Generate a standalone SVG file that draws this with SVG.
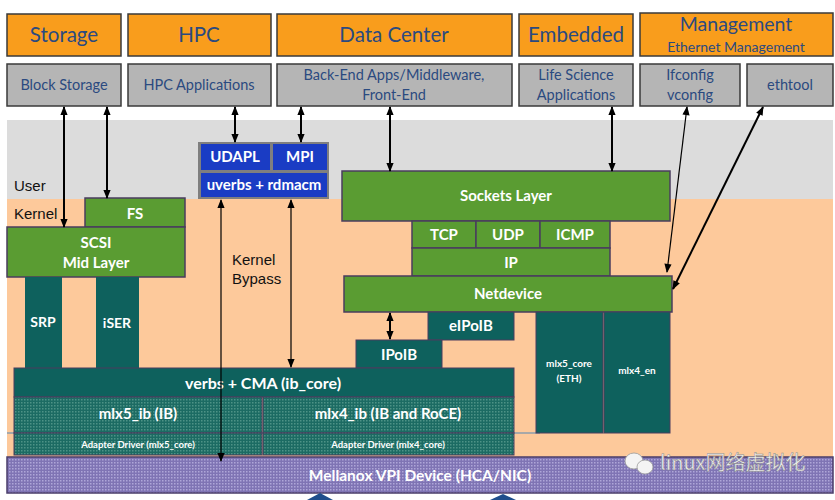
<svg xmlns="http://www.w3.org/2000/svg" width="835" height="500" viewBox="0 0 835 500">
<style>
.top{fill:#f99d1c;stroke:#3a3a3a;stroke-width:1.5}
.app{fill:#b5b5b5;stroke:#3a3a3a;stroke-width:1.5}
.tt{font-family:Lato,"Liberation Sans",sans-serif;fill:#2b4a80;text-anchor:middle}
.g{fill:#5a9c32;stroke:#4a3d5e;stroke-width:1.5}
.t{fill:#0e615d;stroke:#4a3d5e;stroke-width:1}
.w{font-family:Lato,"Liberation Sans",sans-serif;font-weight:bold;fill:#fff;text-anchor:middle}
.lbl{font-family:"Liberation Sans",Arial,sans-serif;fill:#111;font-size:15px}
.ar{stroke:#000;stroke-width:2;fill:none;marker-start:url(#ah);marker-end:url(#ah)}
.ar1{stroke:#000;stroke-width:1.2;fill:none;marker-start:url(#ah);marker-end:url(#ah)}
</style>
<defs>
<marker id="ah" viewBox="0 0 10 10" refX="9" refY="5" markerWidth="10" markerHeight="9" orient="auto-start-reverse" markerUnits="userSpaceOnUse">
<path d="M0,1 L10,5 L0,9 z" fill="#000"/>
</marker>
<pattern id="pt" width="3" height="3" patternUnits="userSpaceOnUse">
<rect width="3" height="3" fill="#1c6b63"/>
<rect x="0" y="0" width="1.5" height="1.5" fill="#4d9286"/>
</pattern>
<pattern id="pp" width="3" height="3" patternUnits="userSpaceOnUse">
<rect width="3" height="3" fill="#7f74b4"/>
<rect x="0" y="0" width="1.5" height="1.5" fill="#aea6d8"/>
</pattern>
</defs>

<!-- background bands -->
<rect x="7" y="120" width="826" height="80" fill="#dcdcdc"/>
<rect x="7" y="199" width="826" height="258" fill="#fdc99b"/>
<line x1="7" y1="433" x2="540" y2="433" stroke="#a8a8a8" stroke-width="2"/>
<text class="lbl" x="14" y="191">User</text>
<text class="lbl" x="14" y="219">Kernel</text>
<text class="lbl" x="232" y="265">Kernel</text>
<text class="lbl" x="232" y="284">Bypass</text>

<!-- top categories -->
<g id="storage"><rect class="top" x="7" y="14" width="114" height="42"/><text class="tt" x="64" y="42" font-size="20.5">Storage</text></g>
<g id="hpc"><rect class="top" x="128" y="14" width="143" height="42"/><text class="tt" x="199" y="42" font-size="20.5">HPC</text></g>
<g id="datacenter"><rect class="top" x="277" y="14" width="235" height="42"/><text class="tt" x="394" y="42" font-size="20.5">Data Center</text></g>
<g id="embedded"><rect class="top" x="519" y="14" width="114" height="42"/><text class="tt" x="576" y="42" font-size="20.5">Embedded</text></g>
<g id="management"><rect class="top" x="640" y="13" width="193" height="43"/><text class="tt" x="736" y="31" font-size="19.5">Management</text><text class="tt" x="736" y="52" font-size="14">Ethernet Management</text></g>

<!-- applications -->
<g id="blockstorage"><rect class="app" x="7" y="64" width="114" height="42"/><text class="tt" x="64" y="90" font-size="14.5">Block Storage</text></g>
<g id="hpcapps"><rect class="app" x="128" y="64" width="143" height="42"/><text class="tt" x="199" y="90" font-size="14.5">HPC Applications</text></g>
<g id="backend"><rect class="app" x="277" y="64" width="235" height="42"/><text class="tt" x="394" y="80" font-size="14.5">Back-End Apps/Middleware,</text><text class="tt" x="394" y="100" font-size="14.5">Front-End</text></g>
<g id="lifescience"><rect class="app" x="519" y="64" width="114" height="42"/><text class="tt" x="576" y="80" font-size="14.5">Life Science</text><text class="tt" x="576" y="100" font-size="14.5">Applications</text></g>
<g id="ifconfig"><rect class="app" x="640" y="64" width="100" height="42"/><text class="tt" x="690" y="80" font-size="14.5">Ifconfig</text><text class="tt" x="690" y="100" font-size="14.5">vconfig</text></g>
<g id="ethtool"><rect class="app" x="747" y="64" width="86" height="42"/><text class="tt" x="790" y="90" font-size="14.5">ethtool</text></g>

<!-- user space verbs -->
<g id="uverbs">
<rect x="198" y="142" width="131" height="57" fill="#7f7f7f"/>
<rect x="201" y="144" width="69" height="26" fill="#1a3cc4"/>
<rect x="273" y="144" width="54" height="26" fill="#1a3cc4"/>
<rect x="201" y="173" width="126" height="24" fill="#1a3cc4"/>
<text class="w" x="235" y="162" font-size="15">UDAPL</text>
<text class="w" x="300" y="162" font-size="15">MPI</text>
<text class="w" x="264" y="190" font-size="15">uverbs + rdmacm</text>
</g>

<!-- storage stack -->
<g id="fs"><rect class="g" x="85" y="198" width="100" height="29"/><text class="w" x="135" y="219" font-size="15">FS</text></g>
<g id="scsi"><rect class="g" x="7" y="227" width="178" height="50"/><text class="w" x="96" y="248" font-size="15">SCSI</text><text class="w" x="96" y="268" font-size="15">Mid Layer</text></g>
<g id="srp"><rect x="25" y="277" width="37" height="91" fill="#0e615d"/><text class="w" x="43" y="327" font-size="14">SRP</text></g>
<g id="iser"><rect x="96" y="277" width="43" height="91" fill="#0e615d"/><text class="w" x="117" y="328" font-size="14">iSER</text></g>

<!-- network stack -->
<g id="sockets"><rect class="g" x="342" y="171" width="328" height="50"/><text class="w" x="506" y="201" font-size="15">Sockets Layer</text></g>
<g id="tcp"><rect class="g" x="412" y="221" width="64" height="27"/><text class="w" x="444" y="240" font-size="15">TCP</text></g>
<g id="udp"><rect class="g" x="476" y="221" width="64" height="27"/><text class="w" x="508" y="240" font-size="15">UDP</text></g>
<g id="icmp"><rect class="g" x="540" y="221" width="70" height="27"/><text class="w" x="575" y="240" font-size="15">ICMP</text></g>
<g id="ip"><rect class="g" x="412" y="248" width="198" height="28"/><text class="w" x="511" y="268" font-size="15">IP</text></g>
<g id="netdevice"><rect class="g" x="344" y="276" width="328" height="36"/><text class="w" x="508" y="299" font-size="15">Netdevice</text></g>
<g id="eipoib"><rect class="t" x="428" y="312" width="86" height="28"/><text class="w" x="471" y="331" font-size="15">eIPoIB</text></g>
<g id="ipoib"><rect class="t" x="356" y="340" width="86" height="28"/><text class="w" x="399" y="360" font-size="15">IPoIB</text></g>
<g id="mlx5core"><rect class="t" x="536" y="312" width="67" height="121"/><text class="w" x="569" y="367" font-size="10">mlx5_core</text><text class="w" x="569" y="382" font-size="10">(ETH)</text></g>
<g id="mlx4en"><rect class="t" x="604" y="312" width="66" height="121"/><text class="w" x="637" y="374" font-size="10">mlx4_en</text></g>

<!-- core & drivers -->
<g id="ibcore"><rect class="t" x="14" y="368" width="500" height="29"/><text class="w" x="263" y="389" font-size="16">verbs  + CMA (ib_core)</text></g>
<g id="mlx5ib"><rect x="14" y="397" width="248" height="36" fill="url(#pt)" stroke="#4a3d5e" stroke-width="1"/><text class="w" x="138" y="419" font-size="15">mlx5_ib (IB)</text></g>
<g id="mlx4ib"><rect x="263" y="397" width="251" height="36" fill="url(#pt)" stroke="#4a3d5e" stroke-width="1"/><text class="w" x="388" y="419" font-size="15">mlx4_ib (IB and RoCE)</text></g>
<g id="mlx5drv"><rect x="14" y="433" width="248" height="22" fill="url(#pt)" stroke="#4a3d5e" stroke-width="1"/><text class="w" x="138" y="448" font-size="9.5">Adapter Driver (mlx5_core)</text></g>
<g id="mlx4drv"><rect x="263" y="433" width="251" height="22" fill="url(#pt)" stroke="#4a3d5e" stroke-width="1"/><text class="w" x="388" y="448" font-size="9.5">Adapter Driver (mlx4_core)</text></g>
<g id="mellanox"><rect x="7" y="457" width="826" height="36" fill="url(#pp)" stroke="#4a3d6a" stroke-width="1.5"/><text class="w" x="420" y="481" font-size="15.5">Mellanox VPI Device (HCA/NIC)</text></g>
<path d="M307,500 L320,493 L333,500 z" fill="#1f4e8c"/>
<path d="M490,500 L503,494 L516,500 z" fill="#1f4e8c"/>

<!-- watermark -->
<g id="watermark">
<ellipse cx="634" cy="461" rx="9" ry="8" fill="#f4f4f4" stroke="#999" stroke-width="0.8"/>
<ellipse cx="645" cy="467" rx="8" ry="7" fill="#f4f4f4" stroke="#999" stroke-width="0.8"/>
<text x="660" y="470" font-family="'Noto Sans CJK SC',sans-serif" font-size="20" fill="#f2f2f2" stroke="#8a8a8a" stroke-width="0.5">linux网络虚拟化</text>
</g>

<!-- connectors -->
<g id="connectors">
<line class="ar" x1="64" y1="107" x2="64" y2="227"/>
<line class="ar" x1="107" y1="107" x2="107" y2="198"/>
<line class="ar" x1="235" y1="107" x2="235" y2="142"/>
<line class="ar" x1="301" y1="107" x2="301" y2="142"/>
<line class="ar" x1="390" y1="107" x2="390" y2="171"/>
<line class="ar" x1="612" y1="107" x2="612" y2="171"/>
<line class="ar1" x1="687" y1="107" x2="667" y2="272"/>
<line class="ar" x1="763" y1="107" x2="673" y2="289"/>
<line class="ar1" x1="221" y1="200" x2="221" y2="461"/>
<line class="ar1" x1="291" y1="200" x2="291" y2="367"/>
<line class="ar" x1="390" y1="313" x2="390" y2="339"/>
</g>
</svg>
